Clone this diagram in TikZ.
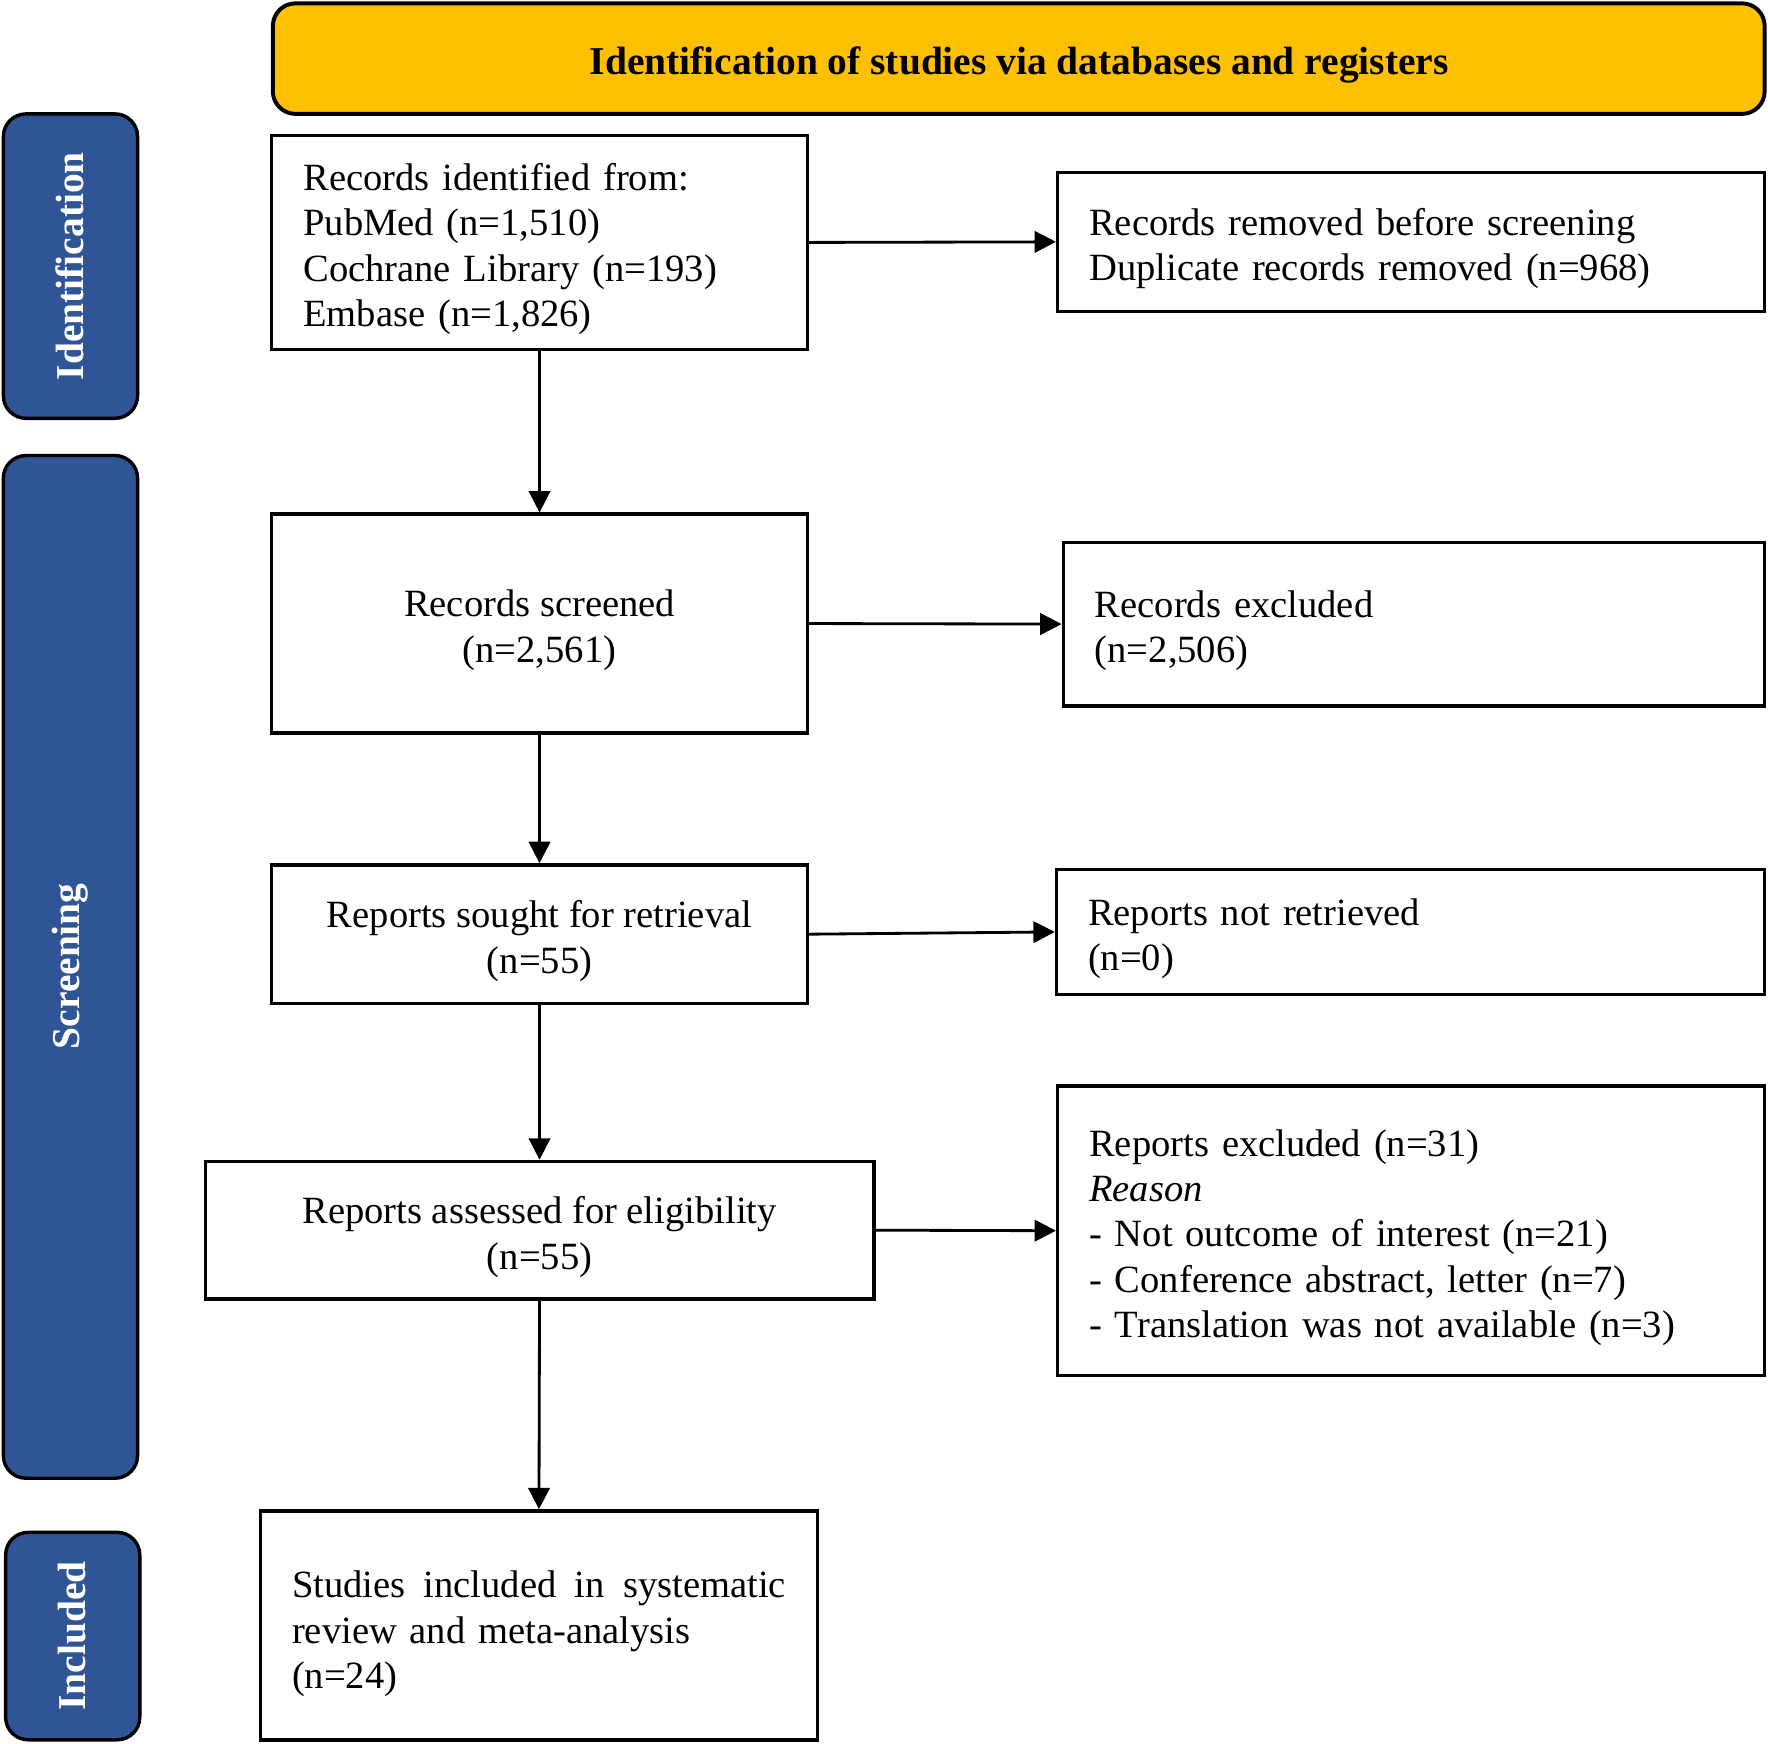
\documentclass[tikz,border=0pt]{standalone}
\usepackage{fontspec}
\setmainfont{Liberation Serif}
\usetikzlibrary{arrows.meta}
\definecolor{sideblue}{HTML}{2F5597}
\definecolor{titleyellow}{HTML}{FFC000}
\begin{document}
\begin{tikzpicture}[x=1pt,y=-1pt,
  box/.style={draw=black, line width=3pt, rectangle, inner sep=0pt, fill=white},
  txt/.style={inner sep=0pt, yshift=-6pt, font=\fontsize{34.2}{40.2}\selectfont},
  ltxt/.style={txt, align=left},
  ctxt/.style={txt, align=center},
  side/.style={draw=black, line width=3pt, rounded corners=20pt, fill=sideblue},
  sidetext/.style={rotate=90, text=white, font=\fontsize{35}{41}\selectfont\bfseries},
  arr/.style={line width=2.5pt, -{Triangle[length=19pt,width=19pt]}}]
\useasboundingbox (0,0) rectangle (1568,1546);

% title
\draw[draw=black, line width=3.5pt, rounded corners=20pt, fill=titleyellow]
  (242,3) rectangle (1565,101);
\node[font=\fontsize{35}{41}\selectfont\bfseries] (title) at (904,58)
  {Identification of studies via databases and registers};

% side bars
\draw[side] (3,101) rectangle (122,371);
\node[sidetext] (sidId) at (62,236) {Identification};
\draw[side] (3,404) rectangle (122,1311);
\node[sidetext] (sidSc) at (62,857) {Screening};
\draw[side] (5,1359) rectangle (124,1543);
\node[sidetext] (sidIn) at (64,1451) {Included};

% boxes
\node[box, minimum width=475pt, minimum height=190pt] (A) at (478.5,215) {};
\node[ltxt, text width=419pt] (At) at (A.center)
  {Records identified from:\\PubMed (n=1,510)\\Cochrane Library (n=193)\\Embase (n=1,826)};
\node[box, minimum width=627pt, minimum height=123pt] (B) at (1251.5,214.5) {};
\node[ltxt, text width=571pt] (Bt) at (B.center)
  {Records removed before screening\\Duplicate records removed (n=968)};
\node[box, minimum width=475pt, minimum height=194pt] (C) at (478.5,553) {};
\node[ctxt] (Ct) at (C.center) {Records screened\\(n=2,561)};
\node[box, minimum width=622pt, minimum height=145pt] (D) at (1254,553.5) {};
\node[ltxt, text width=566pt] (Dt) at (D.center) {Records excluded\\(n=2,506)};
\node[box, minimum width=475pt, minimum height=123pt] (E) at (478.5,828.5) {};
\node[ctxt] (Et) at (E.center) {Reports sought for retrieval\\(n=55)};
\node[box, minimum width=628pt, minimum height=111pt] (F) at (1251,826.5) {};
\node[ltxt, text width=572pt] (Ft) at (F.center) {Reports not retrieved\\(n=0)};
\node[box, minimum width=593pt, minimum height=122pt] (G) at (478.5,1091) {};
\node[ctxt] (Gt) at (G.center) {Reports assessed for eligibility\\(n=55)};
\node[box, minimum width=627pt, minimum height=257pt] (H) at (1251.5,1091.5) {};
\node[ltxt, text width=571pt] (Ht) at (H.center)
  {Reports excluded (n=31)\\\textit{Reason}\\- Not outcome of interest (n=21)\\- Conference abstract, letter (n=7)\\- Translation was not available (n=3)};
\node[box, minimum width=494pt, minimum height=203pt] (I) at (478,1441.5) {};
\node[ltxt, text width=438pt, yshift=-1.5pt] (It) at (I.center)
  {Studies\hfill included\hfill in\hfill systematic\\review and meta-analysis\\(n=24)};

% connectors
\draw[arr] (A.south) -- (C.north);
\draw[arr] (A.east) -- (B.west);
\draw[arr] (C.east) -- (D.west);
\draw[arr] (C.south) -- (E.north);
\draw[arr] (E.east) -- (F.west);
\draw[arr] (E.south) -- (G.north);
\draw[arr] (G.east) -- (H.west);
\draw[arr] (G.south) -- (I.north);
\end{tikzpicture}
\end{document}
